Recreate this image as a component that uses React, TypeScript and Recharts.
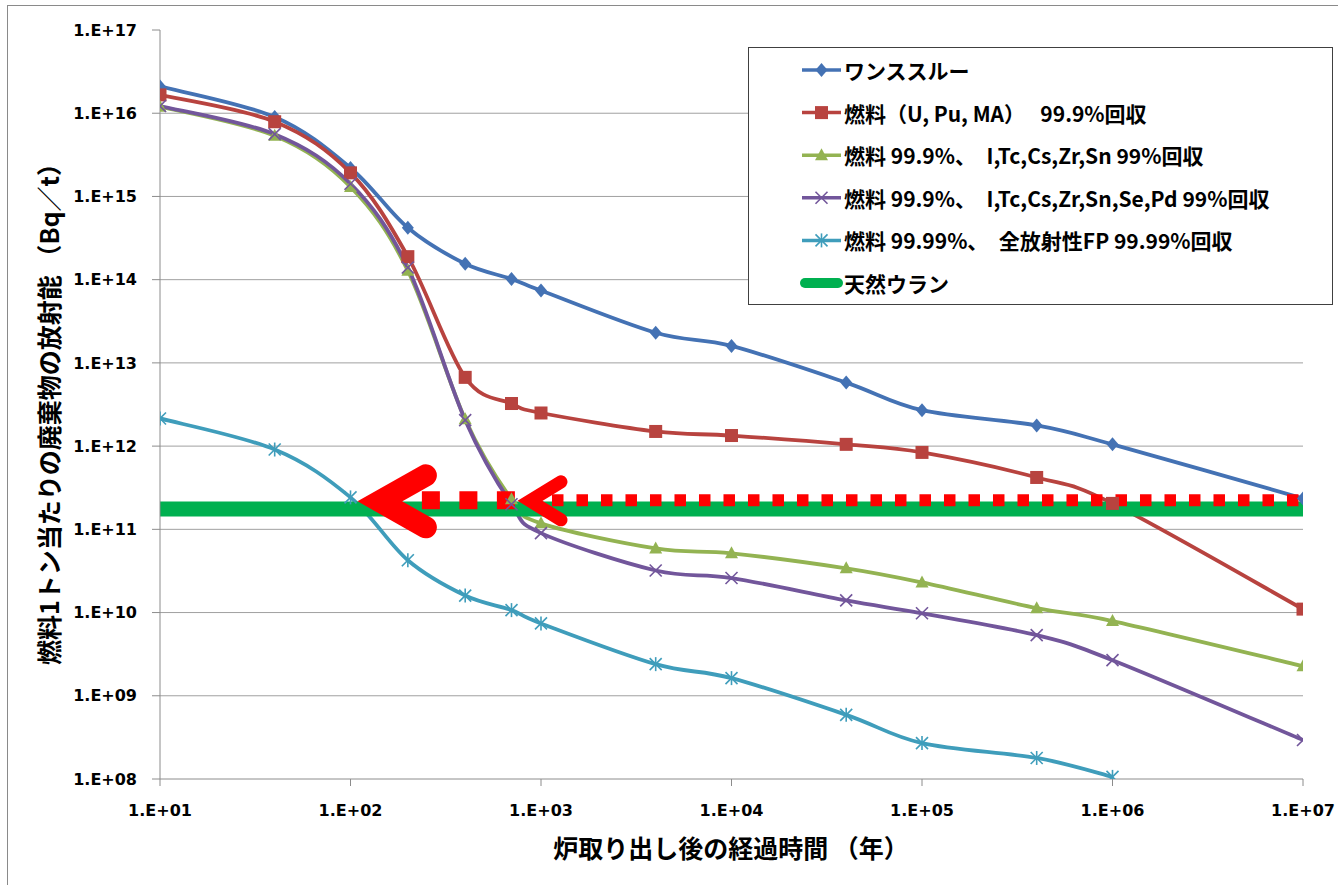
import React from "react";
import {
  CartesianGrid,
  ComposedChart,
  Line,
  ReferenceDot,
  ReferenceLine,
  XAxis,
  YAxis
} from "recharts";

// years after discharge from the reactor
const years = [10, 40, 100, 200, 400, 700, 1000, 4000, 1e4, 4e4, 1e5, 4e5, 1e6, 1e7];

// Bq per tonne of fuel
const onceThrough = [2.1e16, 9.0e15, 2.2e15, 4.2e14, 1.55e14, 1.02e14, 7.4e13, 2.3e13, 1.6e13, 5.8e12, 2.7e12, 1.77e12, 1.05e12, 2.35e11];
const fuelRecovery = [1.66e16, 7.9e15, 1.92e15, 1.89e14, 6.7e12, 3.25e12, 2.5e12, 1.5e12, 1.34e12, 1.05e12, 8.4e11, 4.2e11, 2.05e11, 1.1e10];
const fpRecovery5 = [1.2e16, 5.35e15, 1.3e15, 1.28e14, 2.1e12, 2.3e11, 1.18e11, 5.9e10, 5.15e10, 3.4e10, 2.3e10, 1.13e10, 7.9e9, 2.27e9];
const fpRecovery7 = [1.22e16, 5.6e15, 1.42e15, 1.4e14, 2.05e12, 2.0e11, 9.0e10, 3.2e10, 2.6e10, 1.4e10, 9.8e9, 5.35e9, 2.68e9, 2.94e8];
const allFpRecovery = [2.15e12, 9.1e11, 2.42e11, 4.25e10, 1.6e10, 1.07e10, 7.4e9, 2.4e9, 1.63e9, 5.9e8, 2.7e8, 1.79e8, 1.06e8, null];
const naturalUranium = 1.76e11;

// red annotation: target level with arrows
const targetLevel = 2.23e11;
const bigDotsRange = [237, 745];
const smallDotsRange = [1142, 1e7];
const bigArrowTip = [108, 2.17e11];
const smallArrowTip = [748, 2.2e11];

const xTicks = [1e1, 1e2, 1e3, 1e4, 1e5, 1e6, 1e7];
const yTicks = [1e8, 1e9, 1e10, 1e11, 1e12, 1e13, 1e14, 1e15, 1e16, 1e17];
const gridValues = yTicks.slice(1, -1);

type MarkerKind = "diamond" | "square" | "triangle" | "cross" | "star" | "none";

const seriesList: { key: string; name: string; values: (number | null)[]; color: string; marker: MarkerKind }[] = [
  { key: "once", name: "ワンススルー", values: onceThrough, color: "#4472B4", marker: "diamond" },
  { key: "fuel", name: "燃料（U, Pu, MA）\u2002 99.9%回収", values: fuelRecovery, color: "#B8433F", marker: "square" },
  { key: "fp5", name: "燃料 99.9%、\u2002I,Tc,Cs,Zr,Sn 99%回収", values: fpRecovery5, color: "#93B352", marker: "triangle" },
  { key: "fp7", name: "燃料 99.9%、\u2002I,Tc,Cs,Zr,Sn,Se,Pd 99%回収", values: fpRecovery7, color: "#72569B", marker: "cross" },
  { key: "allfp", name: "燃料 99.99%、\u2002全放射性FP 99.99%回収", values: allFpRecovery, color: "#3F9DBB", marker: "star" }
];
const naturalSeries = { key: "natural", name: "天然ウラン", color: "#00B050" };

const chartData = years.map((t, i) => {
  const row: Record<string, number | null> = { t };
  seriesList.forEach((s) => {
    row[s.key] = s.values[i] ?? null;
  });
  row.natural = i === 0 || i === years.length - 1 ? naturalUranium : null;
  return row;
});

const formatPower = (v: number) => {
  const p = Math.round(Math.log10(v));
  return `1.E+${p < 10 ? "0" + p : p}`;
};

// Excel-like smoothing (Catmull-Rom through the points)
function smoothCurve(context: any) {
  let pts: number[][] = [];
  return {
    areaStart() {},
    areaEnd() {},
    lineStart() {
      pts = [];
    },
    point(x: number, y: number) {
      pts.push([+x, +y]);
    },
    lineEnd() {
      const n = pts.length;
      if (!n) return;
      context.moveTo(pts[0][0], pts[0][1]);
      for (let i = 0; i < n - 1; i++) {
        const p0 = pts[i > 0 ? i - 1 : 0];
        const p1 = pts[i];
        const p2 = pts[i + 1];
        const p3 = pts[i + 2 < n ? i + 2 : n - 1];
        context.bezierCurveTo(
          p1[0] + (p2[0] - p0[0]) / 6,
          p1[1] + (p2[1] - p0[1]) / 6,
          p2[0] - (p3[0] - p1[0]) / 6,
          p2[1] - (p3[1] - p1[1]) / 6,
          p2[0],
          p2[1]
        );
      }
    }
  };
}

function Marker({ kind, color, cx, cy }: { kind: MarkerKind; color: string; cx: number; cy: number }) {
  switch (kind) {
    case "diamond":
      return <polygon points={`${cx},${cy - 7} ${cx + 6},${cy} ${cx},${cy + 7} ${cx - 6},${cy}`} fill={color} />;
    case "square":
      return <rect x={cx - 6.5} y={cy - 6.5} width={13} height={13} fill={color} />;
    case "triangle":
      return <polygon points={`${cx},${cy - 7} ${cx + 6.5},${cy + 5} ${cx - 6.5},${cy + 5}`} fill={color} />;
    case "cross":
      return (
        <g stroke={color} strokeWidth={1.6}>
          <line x1={cx - 6} y1={cy - 6} x2={cx + 6} y2={cy + 6} />
          <line x1={cx - 6} y1={cy + 6} x2={cx + 6} y2={cy - 6} />
        </g>
      );
    case "star":
      return (
        <g stroke={color} strokeWidth={1.6}>
          <line x1={cx - 6} y1={cy - 6} x2={cx + 6} y2={cy + 6} />
          <line x1={cx - 6} y1={cy + 6} x2={cx + 6} y2={cy - 6} />
          <line x1={cx} y1={cy - 7} x2={cx} y2={cy + 7} />
        </g>
      );
    default:
      return null;
  }
}

const makeDot = (kind: MarkerKind, color: string) => (props: any) => {
  const { cx, cy, index, value } = props;
  if (cx == null || cy == null || value == null) return <g key={`d-${index}`} />;
  return (
    <g key={`d-${index}`}>
      <Marker kind={kind} color={color} cx={cx} cy={cy} />
    </g>
  );
};

// thick red chevron pointing left, tip at (cx, cy)
const chevron = (depth: number, reach: number, spread: number, width: number) => (props: any) => {
  const { cx, cy } = props;
  if (cx == null || cy == null) return <g />;
  const vx = cx + depth;
  return (
    <polyline
      points={`${cx + reach},${cy - spread} ${vx},${cy} ${cx + reach},${cy + spread}`}
      fill="none"
      stroke="#FF0000"
      strokeWidth={width}
      strokeLinejoin="miter"
      strokeMiterlimit={10}
      strokeLinecap="round"
    />
  );
};

const tickStyle = { fill: "#000", fontSize: 16, fontWeight: 700, fontFamily: "'DejaVu Sans', sans-serif" };
const titleFont = "'Noto Sans CJK JP', sans-serif";
const axisGray = "#8C8C8C";

function Legend() {
  const rows = [...seriesList, { ...naturalSeries, marker: "none" as MarkerKind }];
  return (
    <div
      style={{
        position: "absolute",
        left: 748,
        top: 47,
        width: 585,
        height: 258,
        border: "1px solid #404040",
        background: "#fff",
        boxSizing: "border-box"
      }}
    >
      <svg width={585} height={258} style={{ position: "absolute", left: -1, top: -1 }}>
        {rows.map((s, i) => {
          const cy = 23 + i * 42.6;
          const isNatural = s.key === "natural";
          return (
            <g key={s.key}>
              {isNatural ? (
                <line x1={57} y1={cy} x2={90} y2={cy} stroke={s.color} strokeWidth={10} strokeLinecap="round" />
              ) : (
                <line x1={54} y1={cy} x2={93} y2={cy} stroke={s.color} strokeWidth={3.5} />
              )}
              <Marker kind={s.marker} color={s.color} cx={73.5} cy={cy} />
              <text
                x={96}
                y={cy}
                dominantBaseline="central"
                fontFamily={titleFont}
                fontWeight={700}
                fontSize={21}
                fill="#000"
              >
                {s.name}
              </text>
            </g>
          );
        })}
      </svg>
    </div>
  );
}

export default function App() {
  return (
    <div
      style={{
        position: "fixed",
        left: 0,
        top: 0,
        width: 1338,
        height: 885,
        overflow: "hidden",
        background: "#fff"
      }}
    >
      <div
        style={{
          position: "absolute",
          left: 7,
          top: 5,
          width: 1400,
          height: 950,
          borderLeft: "1px solid #8a8a8a",
          borderTop: "1px solid #8a8a8a"
        }}
      />
      <div style={{ position: "absolute", left: 0, top: 0 }}>
        <ComposedChart width={1338} height={885} data={chartData} margin={{ top: 30, right: 35, bottom: 26, left: 0 }}>
          <CartesianGrid horizontal vertical={false} horizontalValues={gridValues} stroke="#A0A0A0" strokeWidth={1} />
          <XAxis
            dataKey="t"
            type="number"
            scale="log"
            domain={[1e1, 1e7]}
            ticks={xTicks}
            allowDataOverflow
            tickFormatter={formatPower}
            tick={tickStyle}
            stroke={axisGray}
            tickLine={{ stroke: axisGray }}
            tickSize={7}
            tickMargin={19}
            height={80}
            interval={0}
            label={{
              content: () => (
                <text x={731} y={858} textAnchor="middle" fontFamily={titleFont} fontWeight={700} fontSize={25} fill="#000">
                  炉取り出し後の経過時間 （年）
                </text>
              )
            }}
          />
          <YAxis
            type="number"
            scale="log"
            domain={[1e8, 1e17]}
            ticks={yTicks}
            allowDataOverflow
            tickFormatter={formatPower}
            tick={tickStyle}
            stroke={axisGray}
            tickLine={{ stroke: axisGray }}
            tickSize={8}
            tickMargin={15}
            width={160}
            interval={0}
            label={{
              content: () => (
                <text
                  transform="translate(48, 408) rotate(-90)"
                  textAnchor="middle"
                  dominantBaseline="central"
                  fontFamily={titleFont}
                  fontWeight={700}
                  fontSize={25}
                  fill="#000"
                >
                  燃料1トン当たりの廃棄物の放射能 （Bq／t）
                </text>
              )
            }}
          />
          {seriesList.map((s) => (
            <Line
              key={s.key}
              dataKey={s.key}
              name={s.name}
              type={smoothCurve as any}
              stroke={s.color}
              strokeWidth={3.8}
              dot={makeDot(s.marker, s.color)}
              activeDot={false}
              isAnimationActive={false}
            />
          ))}
          <Line
            dataKey="natural"
            name={naturalSeries.name}
            type="linear"
            stroke={naturalSeries.color}
            strokeWidth={15}
            dot={false}
            activeDot={false}
            connectNulls
            isAnimationActive={false}
          />
          <ReferenceLine
            segment={[
              { x: bigDotsRange[0], y: targetLevel },
              { x: bigDotsRange[1], y: targetLevel }
            ]}
            stroke="#FF0000"
            strokeWidth={18}
            strokeDasharray="18 19.5"
          />
          <ReferenceLine
            segment={[
              { x: smallDotsRange[0], y: targetLevel },
              { x: smallDotsRange[1], y: targetLevel }
            ]}
            stroke="#FF0000"
            strokeWidth={12}
            strokeDasharray="11.5 13"
          />
          <ReferenceDot x={bigArrowTip[0]} y={bigArrowTip[1]} r={1} shape={chevron(23, 69, 26, 22)} />
          <ReferenceDot x={smallArrowTip[0]} y={smallArrowTip[1]} r={1} shape={chevron(13, 44, 19, 13)} />
        </ComposedChart>
      </div>
      <Legend />
    </div>
  );
}
